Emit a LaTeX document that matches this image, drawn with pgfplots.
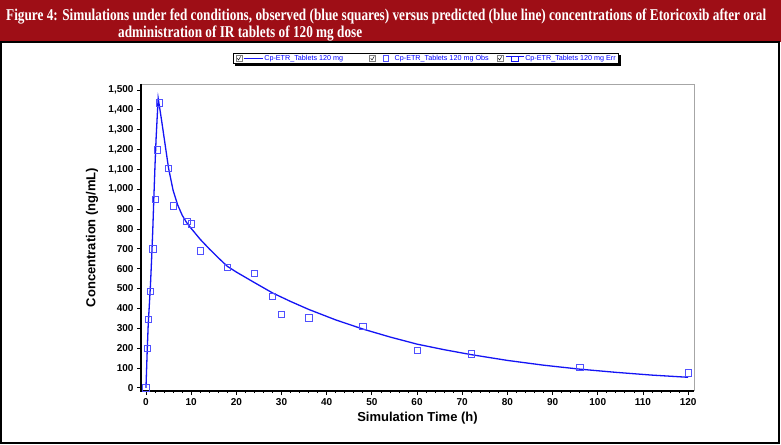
\documentclass[border=0pt]{standalone}
\usepackage{fontspec}
\setmainfont{Liberation Sans}
\newfontfamily\titlefont{Liberation Serif}
\usepackage{graphicx}
\usepackage{pgfplots}
\pgfplotsset{compat=1.18}
\definecolor{titlered}{RGB}{158,14,22}
\definecolor{curveblue}{RGB}{20,20,245}
\definecolor{obsblue}{RGB}{80,80,255}
\newsavebox{\tlone}
\newsavebox{\tltwo}
\newcommand{\chkbox}{%
  \draw[gray, line width=0.5pt, fill=white, mark=none] (0pt,-3pt) rectangle (6pt,3pt);
  \draw[black, line width=0.45pt, mark=none] (1.3pt,0.2pt) -- (2.6pt,-1.6pt) -- (4.8pt,2pt);}

\pgfplotstableread{
t C
0 0
0.25 170
0.5 320
0.75 420
1.0 520
1.25 650
1.5 790
1.75 960
2.0 1120
2.25 1260
2.5 1370
2.7 1458
3.0 1415
3.5 1340
4.0 1262
5.0 1106
6.0 995
7.0 922
8.0 870
9.0 832
10.0 803
12.0 748
14.0 700
16.0 655
18.0 612
20.0 583
24.0 530
28.0 478
32.0 435
36.0 395
42.0 342
48.0 296
54.0 256
60.0 220
66.0 192
72.0 167
80.0 138
88.0 114
96.0 94
104.0 78
112.0 64
120.0 53
}\predicted

\pgfplotstableread{
t C
0 0
0.25 200
0.5 346
1 485
1.5 700
2 950
2.5 1198
3 1436
5 1106
6 916
9 839
10 825
12 691
18 607
24 577
28 460
30 371
36 352
48 311
60 188
72 171
96 104
120 75
}\observed

\begin{document}%
\sbox{\tlone}{\titlefont\bfseries\fontsize{16.5}{19}\selectfont\color{white}Figure 4: Simulations under fed conditions, observed (blue squares) versus predicted (blue line) concentrations of Etoricoxib after oral}%
\sbox{\tltwo}{\titlefont\bfseries\fontsize{16.5}{19}\selectfont\color{white}administration of IR tablets of 120 mg dose}%
\pgfmathsetmacro{\sx}{760/(\the\wd\tlone)}%
\begin{tikzpicture}
\useasboundingbox (0,0) rectangle (781pt,444pt);
\fill[white] (0,0) rectangle (781pt,444pt);
\fill[titlered] (0,402pt) rectangle (781pt,444pt);
\draw[black, line width=1.5pt] (1pt,1pt) rectangle (779pt,402pt);
\node[anchor=base west, inner sep=0pt] at (6pt,423.5pt) {\scalebox{\sx}[1]{\usebox{\tlone}}};
\node[anchor=base west, inner sep=0pt] at (118pt,406.8pt) {\scalebox{\sx}[1]{\usebox{\tltwo}}};
\begin{axis}[
  at={(141pt,53pt)}, anchor=south west,
  width=553pt, height=307pt, scale only axis,
  xmin=-1.1, xmax=121.3, ymin=-16, ymax=1530,
  xtick={0,10,...,120}, ytick={0,100,...,1500},
  minor x tick num=4,
  tick align=outside, xtick pos=left, ytick pos=left,
  major tick length=4pt, minor tick length=2pt,
  tick style={black, line width=0.8pt},
  axis line style={draw=none},
  clip=false,
  ticklabel style={font=\bfseries\fontsize{10}{12}\selectfont},
  /pgf/number format/assume math mode=true,
  yticklabel style={/pgf/number format/1000 sep={,}},
  xlabel={Simulation Time (h)}, ylabel={Concentration (ng/mL)},
  label style={font=\bfseries\fontsize{13}{15}\selectfont},
  xlabel style={at={(axis description cs:0.5,-0.088)}, anchor=center},
  ylabel style={at={(axis description cs:-0.0886,0.5)}, anchor=center},
  legend columns=3,
  legend cell align=left,
  legend style={name=legbox, at={(0.167,1.101)}, anchor=north west, draw=black,
    line width=0.6pt, fill=white, text=blue,
    font=\fontsize{7.2}{8}\selectfont,
    inner xsep=2pt, inner ysep=0.8pt,
    nodes={inner sep=1pt},
    /tikz/every even column/.append style={column sep=1pt}},
]
\addplot[curveblue, line width=1.3pt, mark=none,
  legend image code/.code={\chkbox
    \draw[curveblue, line width=0.8pt] (8pt,0pt) -- (27pt,0pt);}]
  table[x=t, y=C] {\predicted};
\addlegendentry{Cp-ETR\_Tablets 120 mg\rule{24pt}{0pt}}
\addplot[only marks, mark=square, mark size=3.2pt,
  mark options={draw=obsblue, line width=0.6pt},
  legend image code/.code={\chkbox
    \draw[obsblue, line width=0.6pt, mark=none] (14pt,-2.7pt) rectangle (19.4pt,2.7pt);
    \path (24pt,0pt);}]
  table[x=t, y=C] {\observed};
\addlegendentry{Cp-ETR\_Tablets 120 mg Obs\rule{6pt}{0pt}}
\addlegendimage{legend image code/.code={\chkbox
    \draw[curveblue, line width=0.6pt] (9pt,2.5pt) -- (27pt,2.5pt);
    \draw[curveblue, line width=0.6pt] (14.5pt,2.5pt) -- (14.5pt,-2.5pt) -- (21.5pt,-2.5pt) -- (21.5pt,2.5pt);}}
\addlegendentry{Cp-ETR\_Tablets 120 mg Err}
\draw[gray!70, line width=0.8pt] (rel axis cs:0,1) -- (rel axis cs:1,1) -- (rel axis cs:1,0);
\draw[black, line width=1.5pt] (rel axis cs:0,1) -- (rel axis cs:0,0) -- (rel axis cs:1,0);
\end{axis}
\fill[black] ([shift={(0.3pt,-2pt)}]legbox.north east) rectangle ([shift={(2.3pt,-2.3pt)}]legbox.south east);
\fill[black] ([shift={(2pt,-0.3pt)}]legbox.south west) rectangle ([shift={(2.3pt,-2.3pt)}]legbox.south east);
\end{tikzpicture}%
\end{document}
